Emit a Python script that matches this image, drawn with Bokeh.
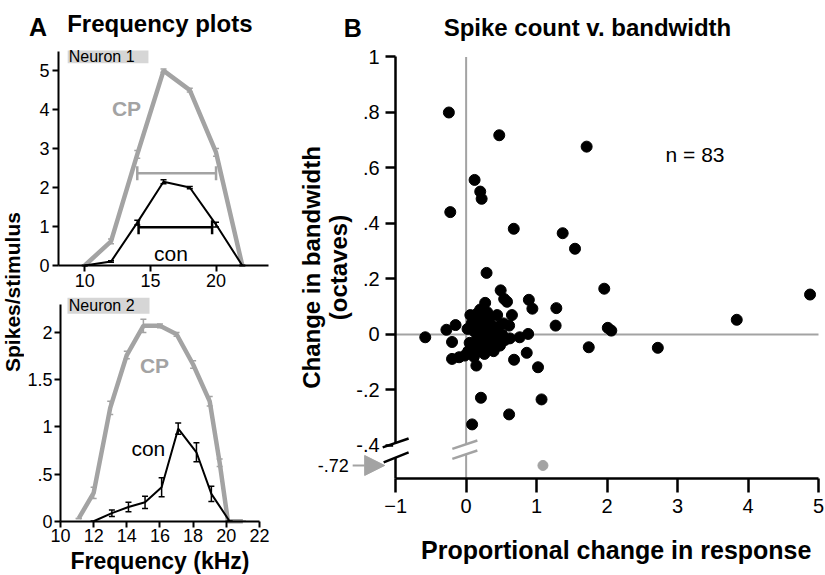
import math
from bokeh.plotting import figure
from bokeh.layouts import row, column
from bokeh.models import (Label, Arrow, NormalHead, BoxAnnotation,
                          FixedTicker, Range1d)
from bokeh.embed import file_html
from bokeh.resources import INLINE
from bokeh.core.properties import value

FONT = "Liberation Sans"
GRAY = "#a3a3a3"
BOXGRAY = "#d6d6d6"

# ---------------- Panel A data ----------------
# Neuron 1
n1_freq = [10, 12, 14, 16, 18, 20, 22]
n1_cp = [0, 0.62, 2.85, 5.0, 4.5, 2.9, 0]
n1_cp_err = [0, 0.06, 0.1, 0.04, 0.05, 0.1, 0]
n1_con = [0, 0.1, 1.1, 2.15, 2.0, 1.05, 0]
n1_con_err = [0, 0.02, 0.06, 0.05, 0.03, 0.06, 0]
n1_bw_start = [14.0, 14.1]
n1_bw_end = [20.0, 19.7]
n1_bw_level = [2.37, 0.98]
n1_bw_color = [GRAY, "black"]

# Neuron 2
n2_cp_freq = [11.1, 12.0, 13.0, 14.0, 15.0, 16.0, 17.0, 18.0, 19.0, 19.6, 20.1, 21.0]
n2_cp = [0.03, 0.3, 1.2, 1.76, 2.07, 2.07, 1.98, 1.66, 1.27, 0.62, 0, 0]
n2_cp_err = [0, 0.06, 0.07, 0.04, 0.07, 0.02, 0.02, 0.04, 0.05, 0.04, 0, 0]
n2_con_freq = [12.0, 13.1, 14.1, 15.1, 16.1, 17.1, 18.2, 19.1, 20.2]
n2_con = [0, 0.085, 0.15, 0.2, 0.36, 0.98, 0.73, 0.29, 0]
n2_con_err = [0, 0.035, 0.05, 0.065, 0.1, 0.06, 0.1, 0.08, 0]

n1_yticks = [0, 1, 2, 3, 4, 5]
n1_xticks = [10, 15, 20]
n2_yticks = [0, 0.5, 1, 1.5, 2]
n2_ylabels = ["0", ".5", "1", "1.5", "2"]
n2_xticks = [10, 12, 14, 16, 18, 20, 22]

# ---------------- Panel B data ----------------
b_x = [-0.245, 0.47, 1.71, 0.12, 0.20, 0.22, -0.225, 0.676, 1.37, 1.545,
       0.29, 1.96, 0.49, 4.88, 0.54, 0.58, 0.89, 0.94, 1.28, 1.27,
       2.01, 2.06, 3.84, 1.74, 2.72, -0.58, -0.28, -0.15, -0.2, -0.2,
       -0.10, -0.02, 0.145, 0.21, 0.085, 0.61, 1.07, 1.02, 0.86, 0.68,
       0.88, 0.76, 0.62, 0.61, 0.65, 0.27, 0.44, 0.155, 0.33,
       0.02, 0.05, 0.08, 0.10, 0.12, 0.14, 0.15, 0.17, 0.18, 0.20,
       0.21, 0.22, 0.24, 0.25, 0.27, 0.28, 0.30, 0.31, 0.34, 0.36,
       0.37, 0.39, 0.41, 0.43, 0.46, 0.48, 0.51, 0.53, 0.55, 0.06,
       0.03, 0.11, 0.26, 0.40]
b_y = [0.80, 0.718, 0.677, 0.557, 0.515, 0.489, 0.441, 0.381, 0.365, 0.309,
       0.222, 0.165, 0.159, 0.144, 0.128, 0.118, 0.125, 0.093, 0.095, 0.032,
       0.024, 0.014, 0.053, -0.046, -0.048, -0.01, 0.017, 0.034, -0.027, -0.088,
       -0.082, -0.076, -0.112, -0.228, -0.324, -0.288, -0.234, -0.118, -0.066, -0.091,
       0.002, -0.01, -0.014, 0.032, 0.07, 0.114, 0.07, 0.075, 0.05,
       0.02, -0.03, 0.04, -0.05, 0.01, 0.06, -0.02, 0.03, -0.06, 0.09,
       0.00, -0.04, 0.05, -0.01, 0.02, -0.05, 0.08, -0.03, 0.01, 0.03,
       -0.02, -0.06, 0.02, -0.01, 0.03, -0.04, 0.00, 0.04, -0.02, 0.07,
       -0.06, -0.08, -0.07, -0.05]
out_x = [1.09]
out_y = [-0.72]
BREAK_Y = -0.472  # display position of the off-scale value
b_xticks = [-1, 0, 1, 2, 3, 4, 5]
b_yticks = [-0.4, -0.2, 0, 0.2, 0.4, 0.6, 0.8, 1.0]
b_ylabels = ["-.4", "-.2", "0", ".2", ".4", ".6", ".8", "1"]
B_XLIM = (-1, 5)
B_YLIM = (-0.52, 1.0)


def style(p, tick_size, lw, tick_out):
    for ax in p.axis:
        ax.axis_line_width = lw
        ax.axis_line_color = "black"
        ax.major_tick_line_width = lw
        ax.major_tick_line_color = "black"
        ax.major_tick_in = 0
        ax.major_tick_out = tick_out
        ax.minor_tick_line_color = None
        ax.major_label_text_font = FONT
        ax.major_label_text_font_size = tick_size
        ax.major_label_text_color = "black"
        ax.axis_label_text_font = FONT
        ax.axis_label_text_font_style = "bold"
        ax.axis_label_text_color = "black"
    p.xgrid.visible = False
    p.ygrid.visible = False
    p.outline_line_color = None
    p.background_fill_color = "white"
    p.border_fill_color = "white"


def lab(p, x, y, text, size, bold=False, color="black", align="left",
        baseline="alphabetic", angle=0):
    p.add_layout(Label(x=x, y=y, text=text, text_font=FONT,
                       text_font_size=size,
                       text_font_style="bold" if bold else "normal",
                       text_color=color, text_align=align,
                       text_baseline=baseline, angle=angle))


def errbars(p, xs, ys, es, color, width, cap):
    lo = [y - e for y, e in zip(ys, es)]
    hi = [y + e for y, e in zip(ys, es)]
    p.segment(x0=xs, y0=lo, x1=xs, y1=hi, line_color=color, line_width=width)
    p.scatter(xs, hi, marker="dash", size=cap, line_color=color, line_width=width)
    p.scatter(xs, lo, marker="dash", size=cap, line_color=color, line_width=width)


# ---------------- Left label strip ----------------
pL = figure(width=24, height=575, x_range=Range1d(0, 1), y_range=Range1d(0, 1),
            output_backend="svg", toolbar_location=None, x_axis_type=None,
            y_axis_type=None, min_border=0)
pL.outline_line_color = None
pL.xgrid.visible = False
pL.ygrid.visible = False
pL.text(x=[0.5], y=[0.493], text=["Spikes/stimulus"], angle=math.pi / 2,
        text_font=value(FONT), text_font_size="21px", text_font_style="bold",
        text_align="center", text_baseline="alphabetic", text_color="black")

# ---------------- Neuron 1 ----------------
pA1 = figure(width=256, height=296, x_range=Range1d(5.410, 24.91),
             y_range=Range1d(-0.796, 6.80),
             output_backend="svg", toolbar_location=None,
             min_border_left=0, min_border_right=0, min_border_top=0,
             min_border_bottom=0)
pA1.xaxis.fixed_location = 0
pA1.yaxis.fixed_location = 8
style(pA1, "18px", 2, 6)
pA1.yaxis.bounds = (0, 5.5)
pA1.xaxis.bounds = (8, 24)
pA1.yaxis.ticker = FixedTicker(ticks=n1_yticks)
pA1.xaxis.ticker = FixedTicker(ticks=n1_xticks)
pA1.xaxis.major_label_standoff = 3
pA1.yaxis.major_label_standoff = 3

pA1.add_layout(BoxAnnotation(left=8.7, right=14.85, bottom=5.19, top=5.52,
                             fill_color=BOXGRAY, fill_alpha=1, line_color=None))
lab(pA1, 8.78, 5.355, "Neuron 1", "16px", baseline="middle")

pA1.line(n1_freq, n1_cp, line_color=GRAY, line_width=4.5)
errbars(pA1, n1_freq, n1_cp, n1_cp_err, GRAY, 1.5, 6)
pA1.line(n1_freq, n1_con, line_color="black", line_width=2)
errbars(pA1, n1_freq, n1_con, n1_con_err, "black", 1.5, 6)
pA1.segment(x0=n1_bw_start, y0=n1_bw_level, x1=n1_bw_end, y1=n1_bw_level,
            line_color=n1_bw_color, line_width=2.5)
pA1.scatter(n1_bw_start + n1_bw_end, n1_bw_level + n1_bw_level, marker="dash",
            angle=math.pi / 2, size=14, line_color=n1_bw_color + n1_bw_color,
            line_width=2.5)
lab(pA1, 13.18, 4.02, "CP", "21px", bold=True, color=GRAY, align="center")
lab(pA1, 16.57, 0.31, "con", "21px", align="center")
lab(pA1, 5.76, 6.11, "A", "25px", bold=True)
lab(pA1, 8.66, 6.21, "Frequency plots", "24px", bold=True)

# ---------------- Neuron 2 ----------------
pA2 = figure(width=256, height=279, x_range=Range1d(7.829, 23.27),
             y_range=Range1d(-0.575, 2.38),
             output_backend="svg", toolbar_location=None,
             min_border_left=0, min_border_right=0, min_border_top=0,
             min_border_bottom=0)
pA2.xaxis.fixed_location = 0
pA2.yaxis.fixed_location = 10
style(pA2, "18px", 2, 6)
pA2.yaxis.bounds = (0, 2.3)
pA2.xaxis.bounds = (10, 22)
pA2.yaxis.ticker = FixedTicker(ticks=n2_yticks)
pA2.yaxis.major_label_overrides = {t: s for t, s in zip(n2_yticks, n2_ylabels)}
pA2.xaxis.ticker = FixedTicker(ticks=n2_xticks)
pA2.xaxis.major_label_standoff = 2
pA2.yaxis.major_label_standoff = 2
pA2.xaxis.axis_label = "Frequency (kHz)"
pA2.xaxis.axis_label_text_font_size = "23px"
pA2.xaxis.axis_label_standoff = 2

pA2.add_layout(BoxAnnotation(left=10.42, right=15.37, bottom=2.196, top=2.367,
                             fill_color=BOXGRAY, fill_alpha=1, line_color=None))
lab(pA2, 10.5, 2.28, "Neuron 2", "16px", baseline="middle")

pA2.line(n2_cp_freq, n2_cp, line_color=GRAY, line_width=4.5)
errbars(pA2, n2_cp_freq, n2_cp, n2_cp_err, GRAY, 1.5, 6)
pA2.line(n2_con_freq, n2_con, line_color="black", line_width=2)
errbars(pA2, n2_con_freq, n2_con, n2_con_err, "black", 1.5, 6)
lab(pA2, 15.67, 1.65, "CP", "21px", bold=True, color=GRAY, align="center")
lab(pA2, 15.3, 0.766, "con", "21px", align="center")

# ---------------- Panel B ----------------
pB = figure(width=545, height=575, x_range=Range1d(-2.634, 5.0993),
            y_range=Range1d(-0.8685, 1.2036),
            output_backend="svg", toolbar_location=None,
            min_border_left=0, min_border_right=0, min_border_top=0,
            min_border_bottom=0)
pB.yaxis.fixed_location = B_XLIM[0]
pB.xaxis.fixed_location = B_YLIM[0]
style(pB, "20px", 2.5, 10)
pB.xaxis.bounds = B_XLIM
pB.yaxis.bounds = B_YLIM
pB.xaxis.ticker = FixedTicker(ticks=b_xticks)
pB.xaxis.major_tick_out = 14
pB.xaxis.major_label_standoff = 6
pB.yaxis.ticker = FixedTicker(ticks=b_yticks)
pB.yaxis.major_label_overrides = {t: s for t, s in zip(b_yticks, b_ylabels)}
pB.yaxis.major_label_standoff = 6
pB.yaxis.axis_label = "Change in bandwidth\n(octaves)"
pB.yaxis.axis_label_text_font_size = "24px"
pB.yaxis.axis_label_text_line_height = 1.0
pB.yaxis.axis_label_standoff = 1

# x-axis title, centred under the axis
lab(pB, (B_XLIM[0] + B_XLIM[1]) / 2 + 0.13, -0.778,
    "Proportional change in response", "25px", bold=True, align="center")

# zero reference lines
pB.segment(x0=[0, B_XLIM[0]], y0=[B_YLIM[0], 0], x1=[0, B_XLIM[1]], y1=[B_YLIM[1], 0],
           line_color=GRAY, line_width=2)

pB.scatter(b_x, b_y, size=11, color="black")
out_disp = [BREAK_Y if v < -0.45 else v for v in out_y]
pB.scatter(out_x, out_disp, size=10, color=GRAY)

# axis breaks
pB.add_layout(Arrow(start=None, end=None, x_start=-1, y_start=-0.392, x_end=-1,
                    y_end=-0.443, line_color="white", line_width=5))
pB.add_layout(Arrow(start=None, end=None, x_start=0, y_start=-0.397, x_end=0,
                    y_end=-0.433, line_color="white", line_width=5))
for (xa, ya, xb, yb, c) in [(-1.184, -0.407, -0.816, -0.375, "black"),
                            (-1.17, -0.461, -0.816, -0.425, "black"),
                            (-0.196, -0.412, 0.159, -0.382, GRAY),
                            (-0.196, -0.448, 0.159, -0.418, GRAY)]:
    pB.add_layout(Arrow(start=None, end=None, x_start=xa, y_start=ya, x_end=xb,
                        y_end=yb, line_color=c, line_width=2.5))
pB.add_layout(Arrow(end=NormalHead(size=20, fill_color=GRAY, line_color=GRAY),
                    start=None, x_start=-1.61, y_start=BREAK_Y, x_end=-1.156,
                    y_end=BREAK_Y, line_color=GRAY, line_width=2))
lab(pB, -1.667, BREAK_Y, "-.72", "18px", align="right", baseline="middle")
lab(pB, 2.83, 0.647, "n = %d" % len(b_x), "21px")
lab(pB, -1.738, 1.106, "B", "25px", bold=True)
lab(pB, -0.319, 1.106, "Spike count v. bandwidth", "24px", bold=True)

layout = row(pL, column(pA1, pA2), pB)
open("out.html", "w").write(file_html(layout, INLINE))
